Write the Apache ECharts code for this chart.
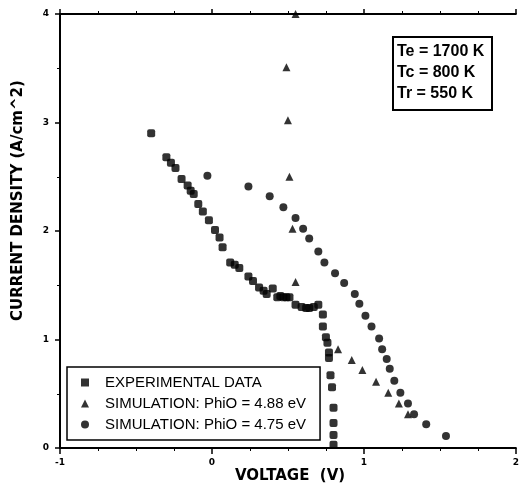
<!DOCTYPE html>
<html>
<head>
<meta charset="utf-8">
<script src="https://cdn.jsdelivr.net/npm/echarts@6/dist/echarts.min.js"></script>
<style>html,body{margin:0;padding:0;background:#fff}#c{width:522px;height:489px}</style>
</head>
<body>
<div id="c"></div>
<script>
const expV = [-0.40,-0.30,-0.27,-0.24,-0.20,-0.16,-0.14,-0.12,-0.09,-0.06,-0.02,0.02,0.05,0.07,0.12,0.15,0.18,0.24,0.27,0.31,0.34,0.36,0.40,0.43,0.45,0.47,0.49,0.51,0.55,0.59,0.62,0.64,0.67,0.70,0.73,0.73,0.75,0.76,0.77,0.77,0.78,0.79,0.80,0.80,0.80,0.80];
const expJ = [2.90,2.68,2.63,2.58,2.48,2.42,2.37,2.34,2.25,2.18,2.10,2.01,1.94,1.85,1.71,1.69,1.66,1.58,1.54,1.48,1.45,1.42,1.47,1.39,1.40,1.39,1.39,1.39,1.32,1.30,1.29,1.29,1.30,1.32,1.23,1.12,1.02,0.97,0.88,0.83,0.67,0.56,0.37,0.23,0.12,0.03];
const sim488V = [0.55,0.49,0.50,0.51,0.53,0.55,0.83,0.92,0.99,1.08,1.16,1.23,1.29];
const sim488J = [4.00,3.51,3.02,2.50,2.02,1.53,0.91,0.81,0.72,0.61,0.51,0.41,0.31];
const sim475V = [-0.03,0.24,0.38,0.47,0.55,0.60,0.64,0.70,0.74,0.81,0.87,0.94,0.97,1.01,1.05,1.10,1.12,1.15,1.17,1.20,1.24,1.29,1.33,1.41,1.54];
const sim475J = [2.51,2.41,2.32,2.22,2.12,2.02,1.93,1.81,1.71,1.61,1.52,1.42,1.33,1.22,1.12,1.01,0.91,0.82,0.73,0.62,0.51,0.41,0.31,0.22,0.11];
const seriesNames = ['EXPERIMENTAL DATA','SIMULATION: PhiO = 4.88 eV','SIMULATION: PhiO = 4.75 eV'];
const boxLines = ['Te = 1700 K','Tc = 800 K','Tr = 550 K'];
const xTicks = {min:-1, max:2, interval:1};
const yTicks = {min:0, max:4, interval:1};

const zip = (a,b) => a.map((v,i)=>[v,b[i]]);
const chart = echarts.init(document.getElementById('c'), null, {renderer:'canvas'});
const lab = {color:'#000', fontFamily:'DejaVu Sans', fontWeight:'bold', fontSize:9};
const line = {show:true, onZero:false, lineStyle:{color:'#000', width:2}};
chart.setOption({
  animation:false,
  backgroundColor:'#fff',
  grid:{left:60, right:1, top:14, bottom:41},
  legend:{
    orient:'vertical', left:67, top:367,
    padding:[8,14,8,14], itemGap:6, itemWidth:8, itemHeight:8,
    borderColor:'#000', borderWidth:1.5, backgroundColor:'#fff',
    textStyle:{color:'#000', fontFamily:'Liberation Sans', fontSize:15, padding:[0,0,0,11]},
    data:[{name:seriesNames[0], icon:'rect'},{name:seriesNames[1], icon:'triangle'},{name:seriesNames[2], icon:'circle'}]
  },
  xAxis:[{
    type:'value', min:xTicks.min, max:xTicks.max, interval:xTicks.interval,
    axisLine:line, axisTick:{show:true, inside:false, length:6, lineStyle:{color:'#000',width:1.5}},
    minorTick:{show:true, splitNumber:4, length:3, lineStyle:{color:'#000'}},
    splitLine:{show:false}, axisLabel:Object.assign({margin:10}, lab)
  },{
    type:'value', position:'top', min:xTicks.min, max:xTicks.max, interval:xTicks.interval,
    axisLine:line, axisTick:{show:true, length:5, lineStyle:{color:'#000',width:1.5}},
    minorTick:{show:true, splitNumber:4, length:3, lineStyle:{color:'#000'}},
    splitLine:{show:false}, axisLabel:{show:false}
  }],
  yAxis:{
    type:'value', min:yTicks.min, max:yTicks.max, interval:yTicks.interval,
    axisLine:line, axisTick:{show:true, length:5, lineStyle:{color:'#000',width:1.5}},
    minorTick:{show:true, splitNumber:2, length:3, lineStyle:{color:'#000'}},
    splitLine:{show:false}, axisLabel:Object.assign({margin:11}, lab)
  },
  series:[
    {name:seriesNames[0], type:'scatter', symbol:'roundRect', symbolSize:8, itemStyle:{color:'#000'}, data:zip(expV,expJ)},
    {name:seriesNames[1], type:'scatter', symbol:'triangle', symbolSize:8, itemStyle:{color:'#000'}, data:zip(sim488V,sim488J)},
    {name:seriesNames[2], type:'scatter', symbol:'circle', symbolSize:8, itemStyle:{color:'#000'}, data:zip(sim475V,sim475J)}
  ],
  graphic:[
    {type:'text', left:235, top:469, style:{text:'VOLTAGE  (V)', fill:'#000', font:'bold 15px "DejaVu Sans"'}},
    {type:'text', x:11, y:321, rotation:Math.PI/2, style:{text:'CURRENT DENSITY (A/cm^2)', fill:'#000', font:'bold 15px "DejaVu Sans"'}},
    {type:'rect', shape:{x:393, y:37, width:99, height:73}, style:{fill:'#fff', stroke:'#000', lineWidth:2}},
    {type:'text', x:397, y:44, style:{text:boxLines[0], fill:'#000', font:'bold 16px "Liberation Sans"'}},
    {type:'text', x:397, y:65, style:{text:boxLines[1], fill:'#000', font:'bold 16px "Liberation Sans"'}},
    {type:'text', x:397, y:86, style:{text:boxLines[2], fill:'#000', font:'bold 16px "Liberation Sans"'}}
  ]
});
</script>
</body>
</html>
